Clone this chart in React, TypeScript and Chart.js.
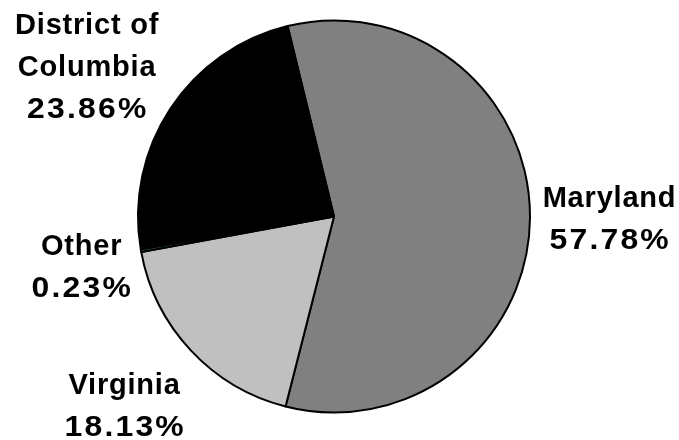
import React, { useEffect, useRef } from "react";
import { Chart, registerables } from "chart.js";

Chart.register(...registerables);

const categories = ["Maryland", "Virginia", "Other", "District of Columbia"];
const labelLines = [["Maryland"], ["Virginia"], ["Other"], ["District of", "Columbia"]];
const shares = [57.78, 18.13, 0.23, 23.86];
const shareLabels = ["57.78%", "18.13%", "0.23%", "23.86%"];
const sliceColors = ["#808080", "#c0c0c0", "#2f5f5f", "#000000"];
// small per-label nudges (px) applied after the radial placement
const labelNudges = [
  [0, 0],
  [-10, 1],
  [6, 3],
  [1, 12],
];

const outsideLabels = {
  id: "outsideLabels",
  afterDatasetsDraw(chart: any) {
    const ctx = chart.ctx;
    const meta = chart.getDatasetMeta(0);
    const fontSize = 29;
    const lineGap = 42;
    const capH = 21;
    const gap = 11.5;
    ctx.save();
    ctx.fillStyle = "#000";
    ctx.textAlign = "center";
    ctx.textBaseline = "alphabetic";
    meta.data.forEach((arc: any, i: number) => {
      const { x, y, startAngle, endAngle, outerRadius } = arc.getProps(
        ["x", "y", "startAngle", "endAngle", "outerRadius"],
        true
      );
      const mid = (startAngle + endAngle) / 2;
      const dx = Math.cos(mid);
      const dy = Math.sin(mid);
      const ex = x + dx * (outerRadius + 1);
      const ey = y + dy * (outerRadius + 1);
      const lines = [...labelLines[i], shareLabels[i]];
      const isPct = lines.map((_, k) => k === lines.length - 1);
      const spacings = isPct.map((p) => (p ? 2 : 0.8));
      const sx = isPct.map((p) => (p ? 1.1 : 1));
      ctx.font = `bold ${fontSize}px "Liberation Sans", Arial, sans-serif`;
      const widths = lines.map((t, k) => {
        (ctx as any).letterSpacing = `${spacings[k]}px`;
        return (ctx.measureText(t).width - spacings[k]) * sx[k];
      });
      const w = Math.max(...widths);
      const h = capH + (lines.length - 1) * lineGap;
      const half = Math.abs(dx) * (w / 2) + Math.abs(dy) * (h / 2);
      const cx = ex + dx * (gap + half) + labelNudges[i][0];
      const cy = ey + dy * (gap + half) + labelNudges[i][1];
      const firstBase = cy - h / 2 + capH;
      lines.forEach((t, k) => {
        (ctx as any).letterSpacing = `${spacings[k]}px`;
        ctx.save();
        ctx.translate(cx, firstBase + k * lineGap);
        ctx.scale(sx[k], 1);
        ctx.fillText(t, spacings[k] / 2, 0);
        ctx.restore();
      });
    });
    (ctx as any).letterSpacing = "0px";
    ctx.restore();
  },
};

export default function App() {
  const ref = useRef<HTMLCanvasElement>(null);
  useEffect(() => {
    if (!ref.current) return;
    const chart = new Chart(ref.current, {
      type: "pie",
      data: {
        labels: categories,
        datasets: [
          {
            data: shares,
            backgroundColor: sliceColors,
            borderColor: "#000000",
            borderWidth: 2,
            hoverOffset: 0,
          },
        ],
      },
      options: {
        responsive: false,
        animation: false,
        rotation: -13.7,
        radius: 196,
        layout: { padding: { left: 0, right: 11, top: 0, bottom: 7 } },
        plugins: {
          legend: { display: false },
          tooltip: { enabled: false },
        },
      },
      plugins: [outsideLabels],
    });
    return () => chart.destroy();
  }, []);
  return (
    <canvas
      ref={ref}
      width={679}
      height={440}
      style={{ position: "absolute", left: 0, top: 0, display: "block", background: "#fff" }}
    />
  );
}
